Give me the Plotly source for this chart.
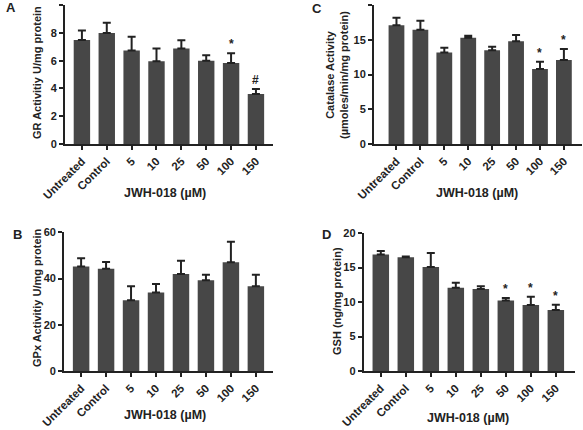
import plotly.graph_objects as go

categories = ["Untreated", "Control", "5", "10", "25", "50", "100", "150"]

# Panel A: GR activity
gr_mean = [7.5, 8.0, 6.73, 5.97, 6.88, 6.0, 5.84, 3.6]
gr_top = [8.17, 8.73, 7.72, 6.88, 7.48, 6.39, 6.54, 3.97]
gr_marks = ["", "", "", "", "", "", "*", "#"]

# Panel C: Catalase activity
cat_mean = [17.1, 16.45, 13.2, 15.3, 13.5, 14.8, 10.8, 12.1]
cat_top = [18.2, 17.75, 13.86, 15.6, 14.0, 15.7, 11.85, 13.7]
cat_marks = ["", "", "", "", "", "", "*", "*"]

# Panel B: GPx activity
gpx_mean = [45.2, 44.2, 30.6, 34.0, 41.9, 39.2, 47.0, 36.6]
gpx_top = [48.7, 47.1, 36.6, 37.6, 47.7, 41.6, 55.9, 41.6]
gpx_marks = ["", "", "", "", "", "", "", ""]

# Panel D: GSH
gsh_mean = [16.9, 16.5, 15.07, 12.08, 11.9, 10.24, 9.57, 8.84]
gsh_top = [17.4, 16.6, 17.1, 12.8, 12.3, 10.6, 10.77, 9.6]
gsh_marks = ["", "", "", "", "", "*", "*", "*"]

panels = [
    dict(mean=gr_mean, top=gr_top, marks=gr_marks, ymax=10, dtick=2,
         xdom=[0.1115, 0.468], ydom=[0.665, 0.988], xr=[-0.68, 7.68],
         ytitle="GR Activitiy U/mg protein", yt=(37, 73),
         letter="A", lt=(11, 8), xt=(165, 193)),
    dict(mean=cat_mean, top=cat_top, marks=cat_marks, ymax=20, dtick=5,
         xdom=[0.6415, 0.998], ydom=[0.665, 0.988], xr=[-0.94, 7.75],
         ytitle="Catalase Activity<br>(µmoles/min/mg protein)", yt=(337, 75),
         letter="C", lt=(317, 9), xt=(477, 193)),
    dict(mean=gpx_mean, top=gpx_top, marks=gpx_marks, ymax=60, dtick=20,
         xdom=[0.11, 0.468], ydom=[0.137, 0.460], xr=[-0.68, 7.68],
         ytitle="GPx Activitiy U/mg protein", yt=(37, 298),
         letter="B", lt=(17, 234), xt=(165, 415)),
    dict(mean=gsh_mean, top=gsh_top, marks=gsh_marks, ymax=20, dtick=5,
         xdom=[0.624, 0.986], ydom=[0.137, 0.458], xr=[-0.68, 7.76],
         ytitle="GSH (ng/mg protein)", yt=(337, 301),
         letter="D", lt=(326, 234), xt=(468, 418)),
]

W, H = 583, 430
FONT = "Liberation Sans, Arial, sans-serif"
INK = "#222222"
BAR = "#474747"

fig = go.Figure()
annotations = []
layout = {}
idx = list(range(len(categories)))

for i, p in enumerate(panels, start=1):
    xa = "x" if i == 1 else f"x{i}"
    ya = "y" if i == 1 else f"y{i}"
    err = [t - m for t, m in zip(p["top"], p["mean"])]
    fig.add_trace(go.Bar(
        x=idx, y=p["mean"], xaxis=xa, yaxis=ya,
        width=0.66, marker=dict(color=BAR, line=dict(width=0)),
        error_y=dict(type="data", symmetric=False, array=err,
                     arrayminus=[0] * len(err), color=INK,
                     thickness=2, width=4),
        showlegend=False, hovertext=categories, hoverinfo="text+y",
    ))
    axis_common = dict(showline=True, linecolor=INK, linewidth=2,
                       ticks="outside", ticklen=4, tickwidth=1.5,
                       tickcolor=INK, showgrid=False, zeroline=False,
                       automargin=False)
    layout["xaxis" if i == 1 else f"xaxis{i}"] = dict(
        domain=p["xdom"], anchor=ya, range=p["xr"],
        tickmode="array", tickvals=idx, ticktext=categories,
        tickangle=-45,
        tickfont=dict(family=FONT, size=11.5, color=INK, weight="bold"),
        **axis_common)
    layout["yaxis" if i == 1 else f"yaxis{i}"] = dict(
        domain=p["ydom"], anchor=xa, range=[0, p["ymax"]],
        dtick=p["dtick"], tick0=0,
        tickfont=dict(family=FONT, size=11, color=INK, weight="bold"),
        **axis_common)

    # significance marks
    for k, (t, mk) in enumerate(zip(p["top"], p["marks"])):
        if mk:
            annotations.append(dict(
                x=k, y=t, xref=xa, yref=ya, text=f"<b>{mk}</b>",
                showarrow=False, yanchor="bottom", yshift=0,
                font=dict(family=FONT, size=12, color=INK)))
    # y title
    ytxt = "<b>" + p["ytitle"].replace("<br>", "</b><br><b>") + "</b>"
    annotations.append(dict(
        x=p["yt"][0] / W, y=1 - p["yt"][1] / H, xref="paper", yref="paper",
        text=ytxt, textangle=-90, showarrow=False,
        xanchor="center", yanchor="middle",
        font=dict(family=FONT, size=11, color=INK)))
    # x title
    annotations.append(dict(
        x=p["xt"][0] / W, y=1 - p["xt"][1] / H, xref="paper", yref="paper",
        text="<b>JWH-018 (µM)</b>", showarrow=False,
        xanchor="center", yanchor="middle",
        font=dict(family=FONT, size=12.5, color=INK)))
    # panel letter
    annotations.append(dict(
        x=p["lt"][0] / W, y=1 - p["lt"][1] / H, xref="paper", yref="paper",
        text=f"<b>{p['letter']}</b>", showarrow=False,
        xanchor="center", yanchor="middle",
        font=dict(family=FONT, size=13, color=INK)))

fig.update_layout(
    width=W, height=H, margin=dict(l=0, r=0, t=0, b=0, autoexpand=False),
    paper_bgcolor="white", plot_bgcolor="white",
    font=dict(family=FONT, color=INK),
    annotations=annotations, **layout)

fig.write_html(
    "out.html",
    config={"displayModeBar": False},
    post_script="document.body.style.margin='0';"
                "document.body.style.overflow='hidden';",
)
